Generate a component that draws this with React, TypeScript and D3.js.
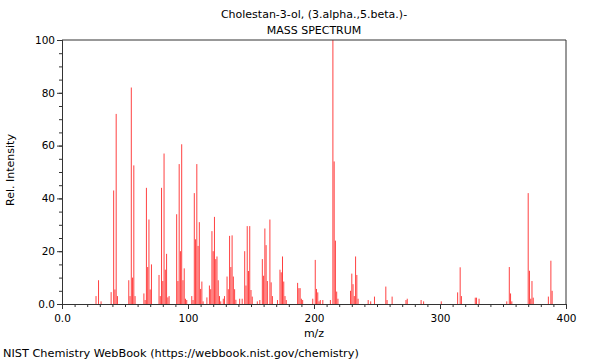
import React, { useEffect, useRef } from "react";
import * as d3 from "d3";

// m/z values and relative intensities
const mz = [
  27, 29, 31, 39, 41, 42, 43, 44, 53, 54, 55, 56, 57, 58, 65, 66, 67, 68, 69, 70, 71,
  77, 78, 79, 80, 81, 82, 83, 84, 85, 91, 92, 93, 94, 95, 96, 97, 98, 99, 103, 104,
  105, 106, 107, 108, 109, 110, 111, 112, 115, 117, 118, 119, 120, 121, 122, 123, 124,
  125, 126, 128, 129, 131, 132, 133, 134, 135, 136, 137, 138, 141, 143, 145, 146, 147,
  148, 149, 150, 151, 155, 157, 159, 160, 161, 162, 163, 165, 166, 167, 171, 173, 174,
  175, 176, 177, 178, 187, 188, 189, 190, 191, 199, 201, 202, 203, 204, 205, 207, 213,
  215, 216, 217, 218, 219, 229, 230, 231, 232, 233, 234, 235, 243, 245, 248, 257, 258,
  262, 273, 274, 285, 287, 301, 314, 316, 317, 328, 329, 331, 353, 355, 356, 357, 370,
  371, 372, 373, 374, 386, 388, 389,
];
const intensity = [
  3, 9, 1, 4.5, 43, 5.5, 72, 3, 9, 3, 82, 10, 52.5, 3, 4, 1.5, 44, 14, 32, 5.5, 15,
  11, 3, 44, 8.7, 57, 13, 19, 2.5, 3, 34, 8.7, 53, 20, 60.5, 9, 13.5, 2, 1.5, 3, 1.5,
  42, 24.5, 53, 22, 31, 5.7, 8.5, 1, 2.5, 7, 5.6, 27.6, 20, 33, 17, 18, 9,
  3, 1, 2, 3, 10.4, 5.6, 25.8, 14, 26, 10.4, 5.6, 1.6, 2, 2, 20, 7, 29.5,
  12.5, 29.5, 5.3, 2.8, 1, 1.5, 17, 10.7, 28.6, 22.3, 8.7, 32, 8.2, 3, 1.5, 13, 12,
  18, 8.5, 3, 1.5, 8, 6, 6, 2, 1.5, 2, 16.7, 5.7, 4.4, 1, 1.5, 1.5, 1.5,
  100, 54, 24, 4.7, 2, 5, 11.5, 7.5, 3, 18, 11, 2, 1.5, 1, 2.8, 6.6, 1.5,
  2.8, 1.5, 2, 1.5, 1, 1, 4.4, 13.9, 3, 2.4, 2.4, 2, 1, 14, 4, 1, 42,
  12.6, 2, 8.7, 2.4, 2.8, 16.4, 5,
];

const titleLines = ["Cholestan-3-ol, (3.alpha.,5.beta.)-", "MASS SPECTRUM"];
const xTicks = [0, 100, 200, 300, 400];
const yTicks = [0, 20, 40, 60, 80, 100];

export default function App() {
  const svgRef = useRef(null);

  useEffect(() => {
    const width = 600;
    const height = 360;
    const margin = { top: 40, right: 34, bottom: 56, left: 62 };
    const innerW = width - margin.left - margin.right;
    const innerH = height - margin.top - margin.bottom;
    const font = "'DejaVu Sans', sans-serif";
    const axisColor = "#333";

    const svg = d3.select(svgRef.current);
    svg.selectAll("*").remove();

    const x = d3.scaleLinear().domain([0, 400]).range([0, innerW]);
    const y = d3.scaleLinear().domain([0, 100]).range([innerH, 0]);

    // titles
    svg.selectAll(".title")
      .data(titleLines)
      .join("text")
      .attr("class", "title")
      .attr("x", margin.left + innerW / 2)
      .attr("y", (d, i) => 18 + i * 16)
      .attr("text-anchor", "middle")
      .style("font-family", font)
      .style("font-size", "11px")
      .attr("fill", "#000")
      .text(d => d);

    const g = svg.append("g")
      .attr("transform", `translate(${margin.left},${margin.top})`);

    // peaks
    const peaks = mz.map((m, i) => ({ m, v: intensity[i] }));
    g.selectAll(".peak")
      .data(peaks)
      .join("line")
      .attr("class", "peak")
      .attr("x1", d => x(d.m))
      .attr("x2", d => x(d.m))
      .attr("y1", innerH)
      .attr("y2", d => y(d.v))
      .attr("stroke", "#ff0000")
      .attr("stroke-opacity", 0.75)
      .attr("stroke-width", 1);

    // minor ticks
    const xMinor = d3.axisBottom(x).tickValues(d3.range(0, 401, 10)).tickSize(3).tickFormat(() => "");
    const yMinor = d3.axisLeft(y).tickValues(d3.range(0, 101, 5)).tickSize(3).tickFormat(() => "");
    g.append("g").attr("transform", `translate(0,${innerH})`).call(xMinor);
    g.append("g").call(yMinor);

    const fmt = d => (d === 0 ? "0.0" : String(d));
    const xAxis = g.append("g")
      .attr("transform", `translate(0,${innerH})`)
      .call(d3.axisBottom(x).tickValues(xTicks).tickSize(5).tickPadding(6).tickFormat(fmt));
    const yAxis = g.append("g")
      .call(d3.axisLeft(y).tickValues(yTicks).tickSize(5).tickPadding(2).tickFormat(fmt));

    g.selectAll(".domain").attr("stroke", axisColor);
    g.selectAll(".tick line").attr("stroke", axisColor);
    [xAxis, yAxis].forEach(a => a.selectAll("text")
      .style("font-family", font)
      .style("font-size", "10.5px")
      .attr("fill", "#000"));

    // frame top and right
    g.append("line").attr("x1", 0).attr("x2", innerW).attr("y1", 0).attr("y2", 0)
      .attr("stroke", axisColor);
    g.append("line").attr("x1", innerW).attr("x2", innerW).attr("y1", 0).attr("y2", innerH)
      .attr("stroke", axisColor);

    // axis labels
    svg.append("text")
      .attr("x", margin.left + innerW / 2)
      .attr("y", 337)
      .attr("text-anchor", "middle")
      .style("font-family", font)
      .style("font-size", "11px")
      .text("m/z");

    svg.append("text")
      .attr("transform", `translate(14,${margin.top + innerH / 2 - 2}) rotate(-90)`)
      .attr("text-anchor", "middle")
      .style("font-family", font)
      .style("font-size", "11px")
      .text("Rel. Intensity");

    svg.append("text")
      .attr("x", 3)
      .attr("y", 357)
      .style("font-family", font)
      .style("font-size", "11.3px")
      .text("NIST Chemistry WebBook (https://webbook.nist.gov/chemistry)");
  }, []);

  return (
    <svg
      ref={svgRef}
      width={600}
      height={360}
      style={{ position: "absolute", left: 0, top: 0, background: "#fff" }}
    />
  );
}
